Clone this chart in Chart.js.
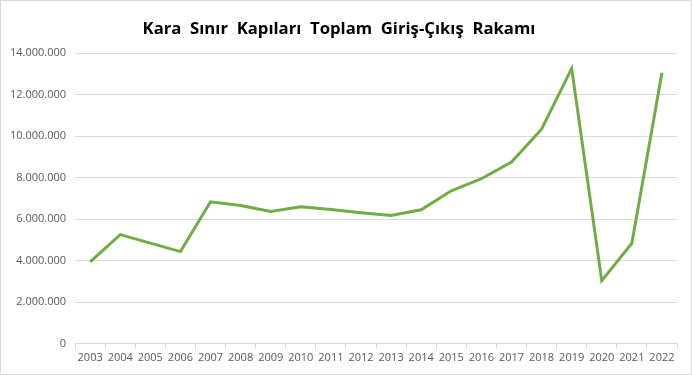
<!DOCTYPE html>
<html>
<head>
<meta charset="utf-8">
<script src="https://cdn.jsdelivr.net/npm/chart.js@4.4.0/dist/chart.umd.min.js"></script>
<style>
  html, body { margin: 0; padding: 0; background: #fff; }
  #wrap { width: 690px; height: 373px; border: 1px solid #d9d9d9; position: relative; }
</style>
</head>
<body>
<div id="wrap"><canvas id="chart" width="690" height="373"></canvas></div>
<script>
const years = ["2003","2004","2005","2006","2007","2008","2009","2010","2011","2012",
               "2013","2014","2015","2016","2017","2018","2019","2020","2021","2022"];
const totals = [3950000, 5260000, 4850000, 4440000, 6840000, 6660000, 6370000, 6600000, 6470000, 6310000,
                6180000, 6450000, 7370000, 7950000, 8750000, 10330000, 13260000, 3040000, 4840000, 13050000];
const chartTitle = "Kara  Sınır  Kapıları  Toplam  Giriş-Çıkış  Rakamı";

const gridColor = "#d9d9d9";
const textColor = "#595959";

function dots(v) {
  return String(v).replace(/\B(?=(\d{3})+(?!\d))/g, ".");
}

new Chart(document.getElementById("chart"), {
  type: "line",
  data: {
    labels: years,
    datasets: [{
      data: totals,
      borderColor: "#70ad47",
      borderWidth: 3,
      pointRadius: 0,
      tension: 0,
      fill: false,
    }],
  },
  options: {
    responsive: false,
    animation: false,
    layout: { padding: { left: 0, right: 14, top: 0, bottom: 8 } },
    plugins: {
      legend: { display: false },
      tooltip: { enabled: false },
      title: {
        display: true,
        text: chartTitle,
        color: "#000",
        font: { family: "'Open Sans'", size: 16.7, weight: "bold" },
        padding: { top: 18, bottom: 14 },
      },
    },
    scales: {
      x: {
        offset: true,
        grid: { offset: true, drawOnChartArea: false, drawTicks: true, tickLength: 5, color: gridColor },
        border: { display: true, color: gridColor },
        ticks: { color: textColor, font: { family: "'Open Sans'", size: 11 }, padding: 2, maxRotation: 0, autoSkip: false },
      },
      y: {
        min: 0,
        max: 14000000,
        grid: { color: gridColor, drawTicks: false },
        border: { display: false },
        ticks: { stepSize: 2000000, color: textColor, font: { family: "'Open Sans'", size: 11 }, padding: 9, callback: v => dots(v) },
      },
    },
  },
});
</script>
</body>
</html>
